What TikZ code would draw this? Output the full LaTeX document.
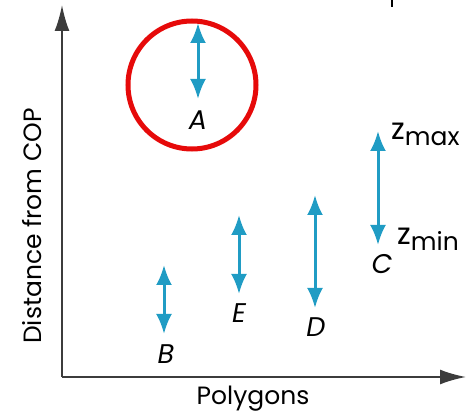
\documentclass[tikz,border=0pt]{standalone}
\usepackage{fontspec}
\setmainfont{Poppins}
\usetikzlibrary{arrows.meta}
\definecolor{arrowblue}{RGB}{32,156,196}
\definecolor{axisgray}{RGB}{60,60,60}
\definecolor{ringred}{RGB}{230,10,10}
\tikzset{
  rng/.style={arrowblue, line width=3pt, {Latex[length=20pt,width=16pt]}-{Latex[length=20pt,width=16pt]}},
  axis/.style={axisgray, line width=2pt, -{Latex[length=26pt,width=15pt]}},
  lbl/.style={font=\fontsize{27}{30}\selectfont\itshape, inner sep=0pt},
  txt/.style={font=\fontsize{25}{28}\selectfont, inner sep=0pt},
  ztxt/.style={font=\fontsize{30}{32}\selectfont, inner sep=0pt}
}
\newcommand{\subtxt}[1]{\raisebox{-6pt}{\fontsize{25}{28}\selectfont #1}}
\begin{document}
\begin{tikzpicture}[x=1pt,y=-1pt]
\useasboundingbox (0,0) rectangle (475,420);
\coordinate (O) at (62,377);
\coordinate (ytop) at (62,5);
\coordinate (xend) at (466,377);
\draw[axis] (O) -- (ytop);
\draw[axis] (O) -- (xend);
\draw[black, line width=1.5pt] (392,0) -- (392,7);
% ring
\node[draw=ringred, line width=5pt, circle, minimum size=128pt, inner sep=0pt] (ring) at (192,85) {};
% ranges
\coordinate (a1) at (198,23); \coordinate (a2) at (198,99);
\coordinate (b1) at (164,265); \coordinate (b2) at (164,334);
\coordinate (e1) at (239,215); \coordinate (e2) at (239,294);
\coordinate (d1) at (315,195); \coordinate (d2) at (315,308);
\coordinate (c1) at (378,131); \coordinate (c2) at (378,245);
\draw[rng] (a1) -- (a2);
\draw[rng] (b1) -- (b2);
\draw[rng] (e1) -- (e2);
\draw[rng] (d1) -- (d2);
\draw[rng] (c1) -- (c2);
\node[lbl] (A) at (198,120) {A};
\node[lbl] (B) at (166,354) {B};
\node[lbl] (E) at (239,313) {E};
\node[lbl] (D) at (316,327) {D};
\node[lbl] (C) at (382,264) {C};
\node[ztxt, anchor=west] (zmax) at (391,134) {z\subtxt{max}};
\node[ztxt, anchor=west] (zmin) at (397,239) {z\subtxt{min}};
\node[txt] (px) at (253,399) {Polygons};
\node[txt, rotate=90] (py) at (32,226) {Distance from COP};
\end{tikzpicture}
\end{document}
